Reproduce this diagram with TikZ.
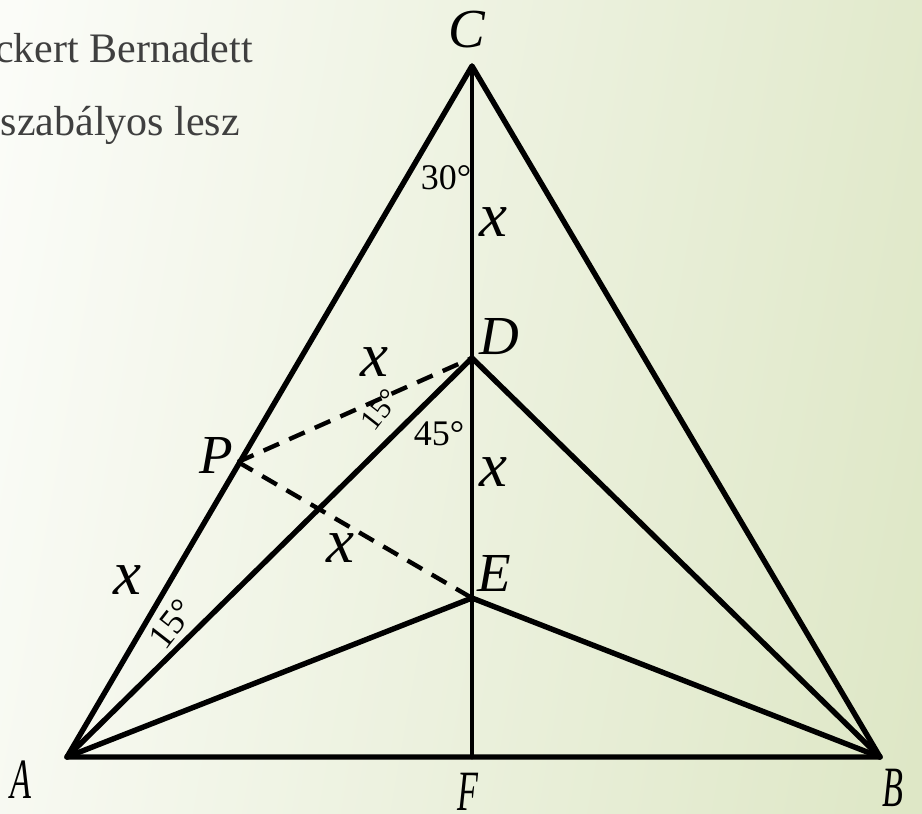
\documentclass[tikz,border=0pt]{standalone}
\usepackage{fontspec}
\setmainfont{Liberation Serif}[ItalicFont={Liberation Serif Italic}]
\newfontfamily\labfont{Liberation Serif Italic}
\definecolor{bgL}{HTML}{FBFCF8}
\definecolor{bgR}{HTML}{DEE7C6}
\definecolor{txtgray}{HTML}{3F3F3F}
\newcommand{\capl}[1]{{\fontsize{55}{58}\labfont #1}}
\newcommand{\capn}[1]{\scalebox{0.6}[1]{\fontsize{57}{60}\labfont #1}}
\begin{document}
\begin{tikzpicture}[x=1pt,y=-1pt,
  edge/.style={line width=5.4pt,line cap=round,line join=round},
  thinedge/.style={line width=4.8pt,line cap=round},
  dashedge/.style={line width=4.4pt,dash pattern=on 17pt off 11pt},
  ptlabel/.style={inner sep=0pt},
  xlabel/.style={inner sep=0pt,font=\fontsize{63}{66}\labfont},
  anglabel/.style={inner sep=0pt,font=\fontsize{36}{38}\selectfont},
  smallang/.style={inner sep=0pt,font=\fontsize{30}{32}\selectfont},
  graytext/.style={inner sep=0pt,anchor=base east,text=txtgray,font=\fontsize{42}{44}\selectfont}]
\useasboundingbox (0,0) rectangle (922,814);
\clip (0,0) rectangle (922,814);
\shade[left color=bgL,right color=bgR,shading angle=80] (-60,-60) rectangle (982,874);
% gray text
\node[graytext] (t1) at (253,62) {ckert Bernadett};
\node[graytext] (t2) at (240,135) {lszabályos lesz};
% points
\coordinate (A) at (67,757);
\coordinate (B) at (880,757);
\coordinate (C) at (472,66);
\coordinate (F) at (472,757);
\coordinate (D) at (472,358);
\coordinate (E) at (472,598);
\coordinate (P) at (238,462);
% lines
\draw[edge] (A) -- (B) -- (C) -- cycle;
\draw[thinedge] (C) -- (F);
\draw[edge] (A) -- (D) -- (B);
\draw[edge] (A) -- (E) -- (B);
\draw[dashedge] (P) -- (D);
\draw[dashedge] (P) -- (E);
% point labels
\node[ptlabel] (lC) at (467,30) {\capl{C}};
\node[ptlabel] (lD) at (499,337) {\capl{D}};
\node[ptlabel] (lE) at (494,573) {\capl{E}};
\node[ptlabel] (lP) at (216,455) {\capl{P}};
\node[ptlabel] (lA) at (21,780) {\capn{A}};
\node[ptlabel] (lF) at (468,792) {\capn{F}};
\node[ptlabel] (lB) at (893,788) {\capn{B}};
% x labels
\node[xlabel] (x1) at (493,222) {x};
\node[xlabel] (x2) at (374,362) {x};
\node[xlabel] (x3) at (493,472) {x};
\node[xlabel] (x4) at (340,548) {x};
\node[xlabel] (x5) at (127,580) {x};
% angle labels
\node[anglabel] (a30) at (446,178) {30\textdegree};
\node[anglabel] (a45) at (439,434) {45\textdegree};
\node[smallang,rotate=52] (a15u) at (380,410) {15\textdegree};
\node[anglabel,rotate=52] (a15l) at (172,624) {15\textdegree};
\end{tikzpicture}
\end{document}
